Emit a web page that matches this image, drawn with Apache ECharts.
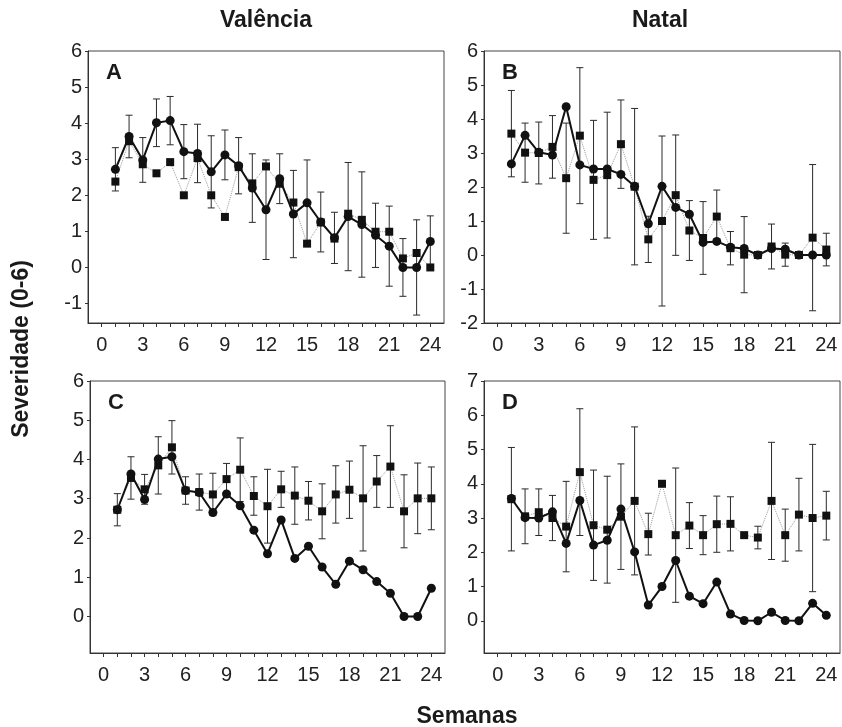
<!DOCTYPE html>
<html>
<head>
<meta charset="utf-8">
<script src="https://cdn.jsdelivr.net/npm/echarts@6/dist/echarts.min.js"></script>
<style>
  html, body { margin: 0; padding: 0; background: #fff; }
  #main { width: 842px; height: 727px; }
</style>
</head>
<body>
<div id="main"></div>
<script>
// semanas
var weeks = [1, 2, 3, 4, 5, 6, 7, 8, 9, 10, 11, 12, 13, 14, 15, 16, 17, 18, 19, 20, 21, 22, 23, 24];
var xTicks = [0, 3, 6, 9, 12, 15, 18, 21, 24];

// Valência - circles (A and C), error bars in A
var valCtrl = [2.72, 3.63, 2.98, 4.01, 4.07, 3.21, 3.16, 2.65, 3.12, 2.82, 2.2, 1.6, 2.46, 1.48, 1.79, 1.26, 0.82, 1.41, 1.19, 0.89, 0.59, 0, 0, 0.72];
var valCtrlErr = [0.6, 0.59, 0.62, 0.66, 0.67, 0.75, 0.81, 1.0, 0.69, 0.78, 0.95, 1.38, 0.69, 1.21, 1.19, 0.83, 0.71, 1.5, 1.46, 0.89, 1.11, 0.8, 1.32, 0.71];
// Valência - squares A
var valA = [2.38, 3.5, 2.86, 2.61, 2.92, 2.0, 3.03, 2.0, 1.4, 2.78, 2.33, 2.8, 2.32, 1.8, 0.66, 1.25, 0.8, 1.49, 1.32, 0.99, 0.99, 0.25, 0.4, 0];
// Valência - squares C (with error bars)
var valC = [2.72, 3.53, 3.24, 3.85, 4.31, 3.21, 3.17, 3.11, 3.5, 3.74, 3.07, 2.81, 3.24, 3.08, 2.95, 2.68, 3.11, 3.23, 3.01, 3.44, 3.82, 2.68, 3.01, 3.01];
var valCErr = [0.41, 0.54, 0.38, 0.73, 0.68, 0.35, 0.46, 0.54, 0.4, 0.81, 0.49, 0.94, 0.46, 0.73, 0.49, 0.7, 0.73, 0.73, 1.34, 0.66, 1.04, 0.93, 0.9, 0.8];

// Natal - squares in B / circles in D, error bars in B
var natCtrl = [3.57, 3.01, 3.0, 3.18, 2.26, 3.51, 2.21, 2.35, 3.26, 2.01, 0.46, 1.0, 1.76, 0.72, 0.5, 1.13, 0.2, 0.01, 0, 0.25, 0.01, 0, 0.51, 0.16];
var natCtrlErr = [1.27, 0.87, 0.91, 0.92, 1.62, 2.0, 1.75, 1.85, 1.3, 2.3, 0.68, 2.5, 1.77, 0.88, 1.07, 0.78, 0.49, 1.12, 0, 0.66, 0.34, 0, 2.15, 0.48];
// Natal - circles B
var natB = [2.68, 3.52, 3.02, 2.94, 4.36, 2.65, 2.53, 2.53, 2.37, 2.02, 0.92, 2.02, 1.4, 1.2, 0.37, 0.4, 0.23, 0.19, 0, 0.19, 0.17, 0, 0, 0];
// Natal - squares D (with error bars)
var natD = [3.55, 3.05, 3.17, 3.0, 2.75, 4.34, 2.79, 2.66, 3.04, 3.5, 2.53, 4.0, 2.5, 2.78, 2.5, 2.82, 2.83, 2.5, 2.43, 3.5, 2.5, 3.1, 3.0, 3.07];
var natDErr = [1.51, 0.8, 0.68, 0.66, 1.32, 1.85, 1.61, 1.56, 1.54, 2.16, 0.61, 0, 1.96, 0.67, 0.57, 0.82, 0.79, 0, 0.33, 1.71, 0.76, 1.06, 2.15, 0.71];

var yTicksA = [-1, 0, 1, 2, 3, 4, 5, 6];
var yTicksB = [-2, -1, 0, 1, 2, 3, 4, 5, 6];
var yTicksC = [0, 1, 2, 3, 4, 5, 6];
var yTicksD = [0, 1, 2, 3, 4, 5, 6, 7];

var FONT = "'Liberation Sans', Arial, sans-serif";

var panels = [
  { name: 'A', left: 88, top: 51, width: 356, height: 272, min: -1.54, max: 6, ticks: yTicksA,
    circ: valCtrl, sq: valA, err: valCtrlErr, errOn: 'circ' },
  { name: 'B', left: 484, top: 51, width: 356, height: 272, min: -2, max: 6, ticks: yTicksB,
    circ: natB, sq: natCtrl, err: natCtrlErr, errOn: 'sq' },
  { name: 'C', left: 90, top: 381, width: 355, height: 272, min: -0.93, max: 6, ticks: yTicksC,
    circ: valCtrl, sq: valC, err: valCErr, errOn: 'sq' },
  { name: 'D', left: 484, top: 381, width: 356, height: 272, min: -0.94, max: 7, ticks: yTicksD,
    circ: natCtrl, sq: natD, err: natDErr, errOn: 'sq' }
];

function pairs(vals) {
  return weeks.map(function (w, k) { return [w, vals[k]]; });
}

function errData(mean, err) {
  var out = [];
  weeks.forEach(function (w, k) {
    if (err[k] > 0) out.push([w, mean[k] - err[k], mean[k] + err[k]]);
  });
  return out;
}

function renderErr(params, api) {
  var x = api.value(0);
  var lo = api.coord([x, api.value(1)]);
  var hi = api.coord([x, api.value(2)]);
  var cap = 3.5;
  var st = { stroke: '#2a2a2a', lineWidth: 1 };
  return {
    type: 'group',
    children: [
      { type: 'line', shape: { x1: lo[0], y1: lo[1], x2: hi[0], y2: hi[1] }, style: st },
      { type: 'line', shape: { x1: lo[0] - cap, y1: lo[1], x2: lo[0] + cap, y2: lo[1] }, style: st },
      { type: 'line', shape: { x1: hi[0] - cap, y1: hi[1], x2: hi[0] + cap, y2: hi[1] }, style: st }
    ]
  };
}

var grids = [], xAxes = [], yAxes = [], series = [], texts = [];

panels.forEach(function (p, i) {
  grids.push({
    left: p.left, top: p.top, width: p.width, height: p.height,
    show: true, borderColor: '#444', borderWidth: 1, backgroundColor: 'transparent'
  });
  xAxes.push({
    gridIndex: i, type: 'value', min: -1, max: 25,
    splitLine: { show: false },
    axisLine: { onZero: false, lineStyle: { color: '#333', width: 1 } },
    axisTick: { customValues: [0].concat(weeks), length: 4, lineStyle: { color: '#333' } },
    axisLabel: { customValues: xTicks, fontSize: 20, color: '#222', fontFamily: FONT, margin: 12 }
  });
  yAxes.push({
    gridIndex: i, type: 'value', min: p.min, max: p.max,
    splitLine: { show: false },
    axisLine: { onZero: false, lineStyle: { color: '#333', width: 1 } },
    axisTick: { customValues: p.ticks, length: 3, lineStyle: { color: '#333' } },
    axisLabel: { customValues: p.ticks, fontSize: 20, color: '#222', fontFamily: FONT, margin: 6 }
  });

  var errMean = p.errOn === 'circ' ? p.circ : p.sq;
  series.push({
    type: 'custom', xAxisIndex: i, yAxisIndex: i, z: 1,
    renderItem: renderErr, data: errData(errMean, p.err), silent: true
  });
  series.push({
    type: 'line', xAxisIndex: i, yAxisIndex: i, z: 2,
    data: pairs(p.sq), symbol: 'rect', symbolSize: 8,
    itemStyle: { color: '#111' },
    lineStyle: { color: '#9a9a9a', width: 1, type: 'dotted' }
  });
  series.push({
    type: 'line', xAxisIndex: i, yAxisIndex: i, z: 3,
    data: pairs(p.circ), symbol: 'circle', symbolSize: 9,
    itemStyle: { color: '#111' },
    lineStyle: { color: '#111', width: 2 }
  });

  texts.push({
    type: 'text', left: p.left + 18, top: p.top + 11,
    style: { text: p.name, font: 'bold 22px ' + FONT, fill: '#1a1a1a' }
  });
});

texts.push({
  type: 'text', x: 266, y: 21,
  style: { text: 'Valência', font: 'bold 23px ' + FONT, fill: '#1a1a1a', textAlign: 'center', textVerticalAlign: 'middle' }
});
texts.push({
  type: 'text', x: 660, y: 21,
  style: { text: 'Natal', font: 'bold 23px ' + FONT, fill: '#1a1a1a', textAlign: 'center', textVerticalAlign: 'middle' }
});
texts.push({
  type: 'text', x: 467, y: 717,
  style: { text: 'Semanas', font: 'bold 23px ' + FONT, fill: '#1a1a1a', textAlign: 'center', textVerticalAlign: 'middle' }
});
texts.push({
  type: 'text', x: 22, y: 349, rotation: Math.PI / 2,
  style: { text: 'Severidade (0-6)', font: 'bold 23px ' + FONT, fill: '#1a1a1a', textAlign: 'center', textVerticalAlign: 'middle' }
});

var myChart = echarts.init(document.getElementById('main'));
myChart.setOption({
  backgroundColor: '#ffffff',
  animation: false,
  grid: grids,
  xAxis: xAxes,
  yAxis: yAxes,
  series: series,
  graphic: texts
});
</script>
</body>
</html>
